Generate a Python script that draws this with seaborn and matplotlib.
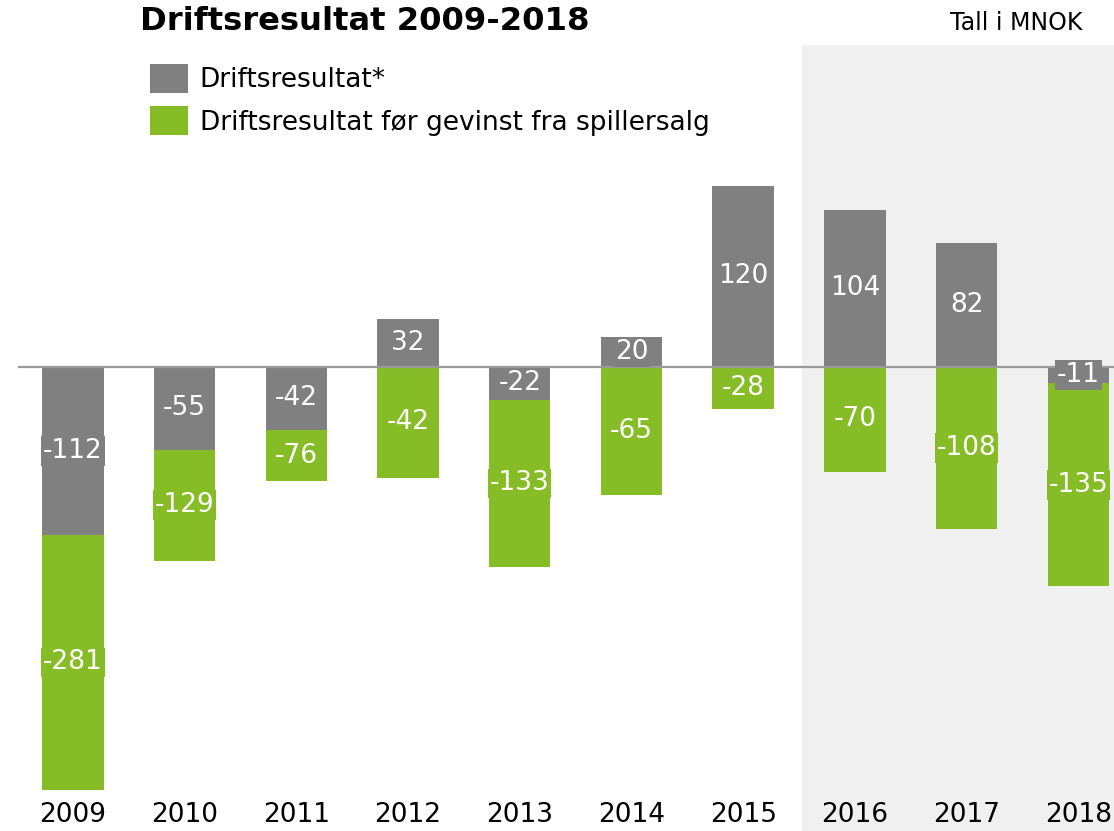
import matplotlib
matplotlib.use("Agg")
import matplotlib.pyplot as plt
from matplotlib.patches import Patch
import pandas as pd
import seaborn as sns

GREY = "#808080"
GREEN = "#86BC25"
SHADE = "#F0F0F0"

years = ["2009", "2010", "2011", "2012", "2013", "2014", "2015", "2016", "2017", "2018"]
driftsresultat = [-112, -55, -42, 32, -22, 20, 120, 104, 82, -11]
for_gevinst = [-281, -129, -76, -42, -133, -65, -28, -70, -108, -135]
# bar lengths as drawn in the source chart (a few are stacked below the grey bar)
for_gevinst_drawn = [-281, -129, -76, -74, -133, -85, -28, -70, -108, -146]

sns.set_theme(style="white")
plt.rcParams["font.family"] = ["DejaVu Sans"]
plt.rcParams["text.color"] = "black"

df = pd.DataFrame({
    "year": years,
    "drift": driftsresultat,
    "gevinst": for_gevinst,
    "gevinst_drawn": for_gevinst_drawn,
})

fig = plt.figure(figsize=(11.14, 8.31), dpi=100)
ax = fig.add_axes([18 / 1114, 0, 1096 / 1114, 786 / 831])

ax.axvspan(6.53, 10, color=SHADE, zorder=0, linewidth=0)

sns.barplot(data=df, x="year", y="gevinst_drawn", color=GREEN, saturation=1,
            width=0.55, linewidth=0, ax=ax, zorder=2)
sns.barplot(data=df, x="year", y="drift", color=GREY, saturation=1,
            width=0.55, linewidth=0, ax=ax, zorder=2)

ax.axhline(0, color="#9A9A9A", linewidth=1.6, zorder=2.5)

label_kw = dict(ha="center", va="center", color="white", fontsize=19, zorder=4)
box_style = "square,pad=0.07"
for i, row in df.iterrows():
    ax.text(i, row["drift"] / 2, f"{row['drift']}",
            bbox=dict(boxstyle=box_style, fc=GREY, ec="none"), **label_kw)
    mid = (min(0, row["drift"]) + row["gevinst_drawn"]) / 2
    ax.text(i, mid, f"{row['gevinst']}",
            bbox=dict(boxstyle=box_style, fc=GREEN, ec="none"), **label_kw)

for i, year in enumerate(years):
    ax.text(i, 0.0204, year, transform=ax.get_xaxis_transform(),
            ha="center", va="center", fontsize=19, color="black")

ax.set_xlim(-0.492, 9.32)
ax.set_ylim(-308.5, 213.8)
ax.axis("off")

fig.text(140 / 1114, 1 - 21 / 831, "Driftsresultat 2009-2018", fontsize=23.2,
         fontweight="bold", ha="left", va="center")
fig.text(1083 / 1114, 1 - 23 / 831, "Tall i MNOK", fontsize=17, ha="right", va="center")

handles = [Patch(facecolor=GREY, edgecolor="none", label="Driftsresultat*"),
           Patch(facecolor=GREEN, edgecolor="none",
                 label="Driftsresultat før gevinst fra spillersalg")]
fig.legend(handles=handles, loc="upper left", bbox_to_anchor=(150 / 1114, 1 - 64 / 831),
           frameon=False, fontsize=19, handlelength=1.44, handleheight=1.3,
           handletextpad=0.45, labelspacing=0.5, borderpad=0, borderaxespad=0)

fig.savefig("out.png", dpi=100)
